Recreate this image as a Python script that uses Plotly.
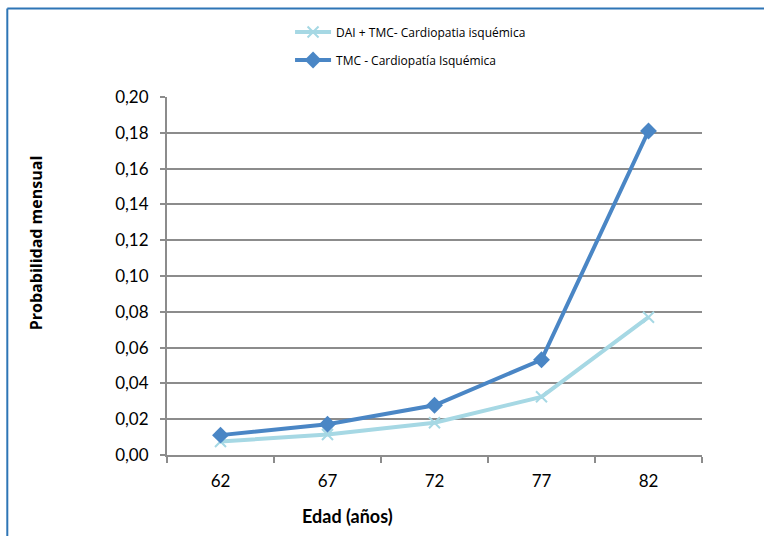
import plotly.graph_objects as go

ages = ["62", "67", "72", "77", "82"]
dai_tmc = [0.0075, 0.0115, 0.0180, 0.0325, 0.0770]
tmc = [0.0111, 0.0172, 0.0278, 0.0532, 0.1810]
y_ticks = [0.00, 0.02, 0.04, 0.06, 0.08, 0.10, 0.12, 0.14, 0.16, 0.18, 0.20]
y_labels = ["0,00", "0,02", "0,04", "0,06", "0,08", "0,10", "0,12", "0,14", "0,16", "0,18", "0,20"]

FONT = "Lato, Open Sans, sans-serif"

fig = go.Figure()
fig.add_trace(go.Scatter(
    x=ages, y=dai_tmc, mode="lines+markers", name="DAI + TMC- Cardiopatia isquémica",
    line=dict(color="#a6d8e4", width=4),
    marker=dict(symbol="x-thin", size=11, line=dict(color="#a6d8e4", width=2)),
    legendgroup="a",
))
fig.add_trace(go.Scatter(
    x=ages, y=tmc, mode="lines+markers", name="TMC - Cardiopatía Isquémica",
    line=dict(color="#4a86c5", width=4),
    marker=dict(symbol="diamond", size=13, color="#4a86c5"),
    legendgroup="b",
))

fig.update_layout(
    width=764, height=536,
    margin=dict(l=167, r=62, t=97, b=81, autoexpand=False),
    paper_bgcolor="white", plot_bgcolor="white",
    font=dict(family=FONT, color="#000000", size=15),
    showlegend=True,
    legend=dict(x=0.23, y=1.222, xanchor="left", yanchor="top",
                font=dict(size=12, family="Open Sans, sans-serif"), tracegroupgap=9,
                bgcolor="rgba(0,0,0,0)", itemwidth=36),
    xaxis=dict(type="category", tickson="boundaries", showgrid=False,
               range=[-0.5, 4.5],
               showline=True, linecolor="#8c8c8c", linewidth=2,
               ticks="outside", ticklen=6, tickcolor="#8c8c8c", tickwidth=2,
               ticklabelstandoff=10,
               tickfont=dict(size=17, family=FONT)),
    yaxis=dict(range=[0, 0.2], tickvals=y_ticks, ticktext=y_labels,
               showgrid=True, gridcolor="#8c8c8c", gridwidth=2,
               showline=True, linecolor="#8c8c8c", linewidth=2,
               ticks="outside", ticklen=5, tickcolor="#8c8c8c", tickwidth=2,
               ticklabelstandoff=8,
               tickfont=dict(size=17, family=FONT), zeroline=False),
)

# axis titles as annotations (offset positions in reference)
fig.add_annotation(text="<b>Edad (años)</b>", xref="paper", yref="paper",
                   x=(348 - 167) / 536, y=-(516 - 455) / 358,
                   showarrow=False, font=dict(size=18, family=FONT),
                   xanchor="center", yanchor="middle")
fig.add_annotation(text="<b>Probabilidad mensual</b>", xref="paper", yref="paper",
                   x=(36 - 167) / 536, y=(455 - 243) / 358, textangle=-90,
                   showarrow=False, font=dict(size=16, family="Open Sans, sans-serif"),
                   xanchor="center", yanchor="middle")

# outer frame (top and left edges visible)
fx0 = (7 - 167) / 536
fy1 = (455 - 8.5) / 358
fig.add_shape(type="line", xref="paper", yref="paper", x0=fx0, x1=2, y0=fy1, y1=fy1,
              line=dict(color="#2e75b6", width=2))
fig.add_shape(type="line", xref="paper", yref="paper", x0=fx0, x1=fx0, y0=fy1, y1=-2,
              line=dict(color="#2e75b6", width=2))

fig.write_html("out.html")
